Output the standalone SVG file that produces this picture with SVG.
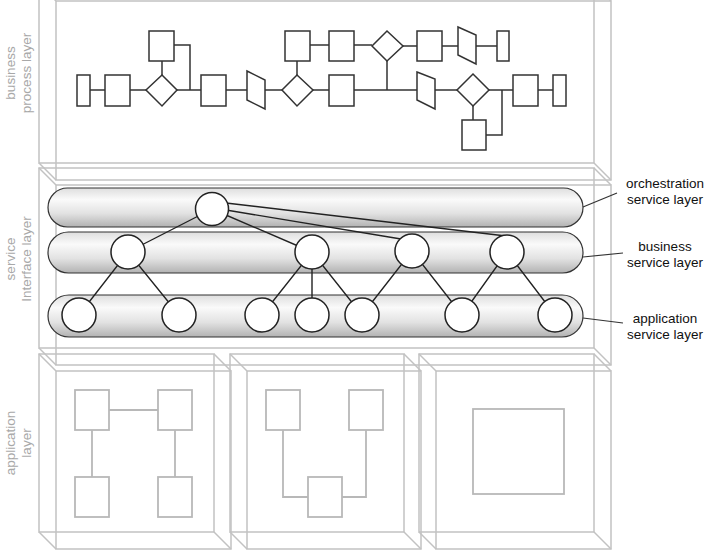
<svg xmlns="http://www.w3.org/2000/svg" width="717" height="557" viewBox="0 0 717 557">
<defs>
<linearGradient id="pillGrad" x1="0" y1="0" x2="0" y2="1">
<stop offset="0" stop-color="#dedede"/>
<stop offset="0.3" stop-color="#fafafa"/>
<stop offset="0.65" stop-color="#e2e2e2"/>
<stop offset="1" stop-color="#b2b2b2"/>
</linearGradient>
<style>
.frame{fill:none;stroke:#c2c2c2;stroke-width:1.5}
.inner{fill:#fff;stroke:#b8b8b8;stroke-width:1.8}
.iline{fill:none;stroke:#b8b8b8;stroke-width:1.8}
.proc{fill:#fff;stroke:#333;stroke-width:1.5}
.pline{fill:none;stroke:#333;stroke-width:1.5}
.pill{fill:url(#pillGrad);stroke:#333;stroke-width:1.2}
.svc{fill:#fff;stroke:#222;stroke-width:1.5}
.sline{fill:none;stroke:#222;stroke-width:1.4}
.lead{fill:none;stroke:#333;stroke-width:1.2}
.side{font-family:"Liberation Sans",Arial,sans-serif;font-size:13.5px;fill:#a8a8a8;text-anchor:middle}
.lbl{font-family:"Liberation Sans",Arial,sans-serif;font-size:13.5px;fill:#111;text-anchor:middle}
</style>
</defs>
<rect width="717" height="557" fill="#fff"/>

<!-- cube frames -->
<g id="cube-business-process">
<rect class="frame" x="39" y="-16" width="555" height="179"/>
<rect class="frame" x="56" y="1" width="555" height="179"/>
<path class="frame" d="M39,-16 L56,1 M594,-16 L611,1 M39,163 L56,180 M594,163 L611,180"/>
</g>
<g id="cube-service-interface">
<rect class="frame" x="39" y="168" width="555" height="180"/>
<rect class="frame" x="56" y="185" width="555" height="180"/>
<path class="frame" d="M39,168 L56,185 M594,168 L611,185 M39,348 L56,365 M594,348 L611,365"/>
</g>
<g id="cube-app-1">
<rect class="frame" x="39" y="354" width="175" height="178"/>
<rect class="frame" x="56" y="371" width="175" height="178"/>
<path class="frame" d="M39,354 L56,371 M214,354 L231,371 M39,532 L56,549 M214,532 L231,549"/>
</g>
<g id="cube-app-2">
<rect class="frame" x="230" y="354" width="174" height="178"/>
<rect class="frame" x="247" y="371" width="174" height="178"/>
<path class="frame" d="M230,354 L247,371 M404,354 L421,371 M230,532 L247,549 M404,532 L421,549"/>
</g>
<g id="cube-app-3">
<rect class="frame" x="419" y="354" width="175" height="178"/>
<rect class="frame" x="436" y="371" width="175" height="178"/>
<path class="frame" d="M419,354 L436,371 M594,354 L611,371 M419,532 L436,549 M594,532 L611,549"/>
</g>

<!-- side labels -->
<g id="label-business-process">
<text class="side" transform="translate(15,73) rotate(-90)"><tspan x="0" y="0">business</tspan><tspan x="0" y="16">process layer</tspan></text>
</g>
<g id="label-service-interface">
<text class="side" transform="translate(15,259) rotate(-90)"><tspan x="0" y="0">service</tspan><tspan x="0" y="16">Interface layer</tspan></text>
</g>
<g id="label-application">
<text class="side" transform="translate(15,443) rotate(-90)"><tspan x="0" y="0">application</tspan><tspan x="0" y="16">layer</tspan></text>
</g>

<!-- business process connectors -->
<g id="process-connectors">
<path class="pline" d="M90,90 H105 M130,90 H146 M177,90 H201 M226,90 H247 M265,90 H282 M313,90 H329 M354,90 H417 M435,90 H458 M489,90 H513 M538,90 H553"/>
<path class="pline" d="M162,61 V75 M174,45 H190 V90 M297,61 V75 M310,45 H329 M354,45 H372 M403,46 H417 M442,46 H458 M476,46 H497 M387,61 V90 M473,106 V120 M502,90 V135 H486"/>
</g>
<!-- business process shapes -->
<g id="process-shapes">
<rect class="proc" x="77" y="75" width="13" height="31"/>
<rect class="proc" x="105" y="75" width="25" height="31"/>
<polygon class="proc" points="162,75 177,90 162,106 146,90"/>
<rect class="proc" x="149" y="31" width="25" height="30"/>
<rect class="proc" x="201" y="75" width="25" height="31"/>
<polygon class="proc" points="247,71 265,80 265,109 247,100"/>
<polygon class="proc" points="297,75 313,90 297,106 282,90"/>
<rect class="proc" x="285" y="31" width="25" height="30"/>
<rect class="proc" x="329" y="75" width="25" height="31"/>
<rect class="proc" x="329" y="31" width="25" height="30"/>
<polygon class="proc" points="387,31 403,46 387,61 372,46"/>
<rect class="proc" x="417" y="31" width="25" height="30"/>
<polygon class="proc" points="458,27 476,35 476,64 458,55"/>
<rect class="proc" x="497" y="31" width="12" height="30"/>
<polygon class="proc" points="417,72 435,79 435,109 417,100"/>
<polygon class="proc" points="473,74 489,90 473,106 457,90"/>
<rect class="proc" x="462" y="120" width="24" height="30"/>
<rect class="proc" x="513" y="75" width="25" height="31"/>
<rect class="proc" x="553" y="75" width="13" height="31"/>
</g>

<!-- service layer pills -->
<g id="orchestration-service-layer"><rect class="pill" x="48" y="188" width="535" height="39" rx="19.5"/></g>
<g id="business-service-layer"><rect class="pill" x="48" y="232" width="535" height="41" rx="20.5"/></g>
<g id="application-service-layer"><rect class="pill" x="48" y="295" width="535" height="42" rx="21"/></g>

<!-- service connectors -->
<g id="service-connectors">
<path class="sline" d="M212,209 L128,252 M212,209 L312,252 M226,203 L506,236 M226,210 L401,239"/>
<path class="sline" d="M128,252 L79,315 M128,252 L179,315 M312,252 L262,315 M312,252 L312,315 M312,252 L362,315 M412,251 L362,315 M412,251 L462,315 M507,252 L462,315 M507,252 L555,315"/>
</g>

<!-- services -->
<g id="svc-orchestration"><circle class="svc" cx="212" cy="209" r="16.5"/></g>
<g id="svc-business-1"><circle class="svc" cx="128" cy="252" r="17"/></g>
<g id="svc-business-2"><circle class="svc" cx="312" cy="252" r="17"/></g>
<g id="svc-business-3"><circle class="svc" cx="412" cy="251" r="17"/></g>
<g id="svc-business-4"><circle class="svc" cx="507" cy="252" r="17"/></g>
<g id="svc-app-1"><circle class="svc" cx="79" cy="315" r="17"/></g>
<g id="svc-app-2"><circle class="svc" cx="179" cy="315" r="17"/></g>
<g id="svc-app-3"><circle class="svc" cx="262" cy="315" r="17"/></g>
<g id="svc-app-4"><circle class="svc" cx="312" cy="315" r="17"/></g>
<g id="svc-app-5"><circle class="svc" cx="362" cy="315" r="17"/></g>
<g id="svc-app-6"><circle class="svc" cx="462" cy="315" r="17"/></g>
<g id="svc-app-7"><circle class="svc" cx="555" cy="315" r="17"/></g>

<!-- leader lines and right labels -->
<g id="leaders">
<path class="lead" d="M583,207 L617,193 M583,257 L623,253 M583,318 L623,323"/>
</g>
<g id="label-orchestration"><text class="lbl"><tspan x="665" y="188">orchestration</tspan><tspan x="665" y="204">service layer</tspan></text></g>
<g id="label-business-service"><text class="lbl"><tspan x="665" y="251">business</tspan><tspan x="665" y="267">service layer</tspan></text></g>
<g id="label-application-service"><text class="lbl"><tspan x="665" y="323">application</tspan><tspan x="665" y="339">service layer</tspan></text></g>

<!-- application layer inner contents -->
<g id="app1-content">
<path class="iline" d="M109,410 H158 M92,430 V477 M175,430 V477"/>
<rect class="inner" x="75" y="390" width="34" height="40"/>
<rect class="inner" x="158" y="390" width="34" height="40"/>
<rect class="inner" x="75" y="477" width="34" height="40"/>
<rect class="inner" x="158" y="477" width="34" height="40"/>
</g>
<g id="app2-content">
<path class="iline" d="M283,430 V497 H308 M366,430 V497 H342"/>
<rect class="inner" x="266" y="390" width="34" height="40"/>
<rect class="inner" x="349" y="390" width="34" height="40"/>
<rect class="inner" x="308" y="477" width="34" height="40"/>
</g>
<g id="app3-content">
<rect class="inner" x="473" y="409" width="91" height="85"/>
</g>
</svg>
